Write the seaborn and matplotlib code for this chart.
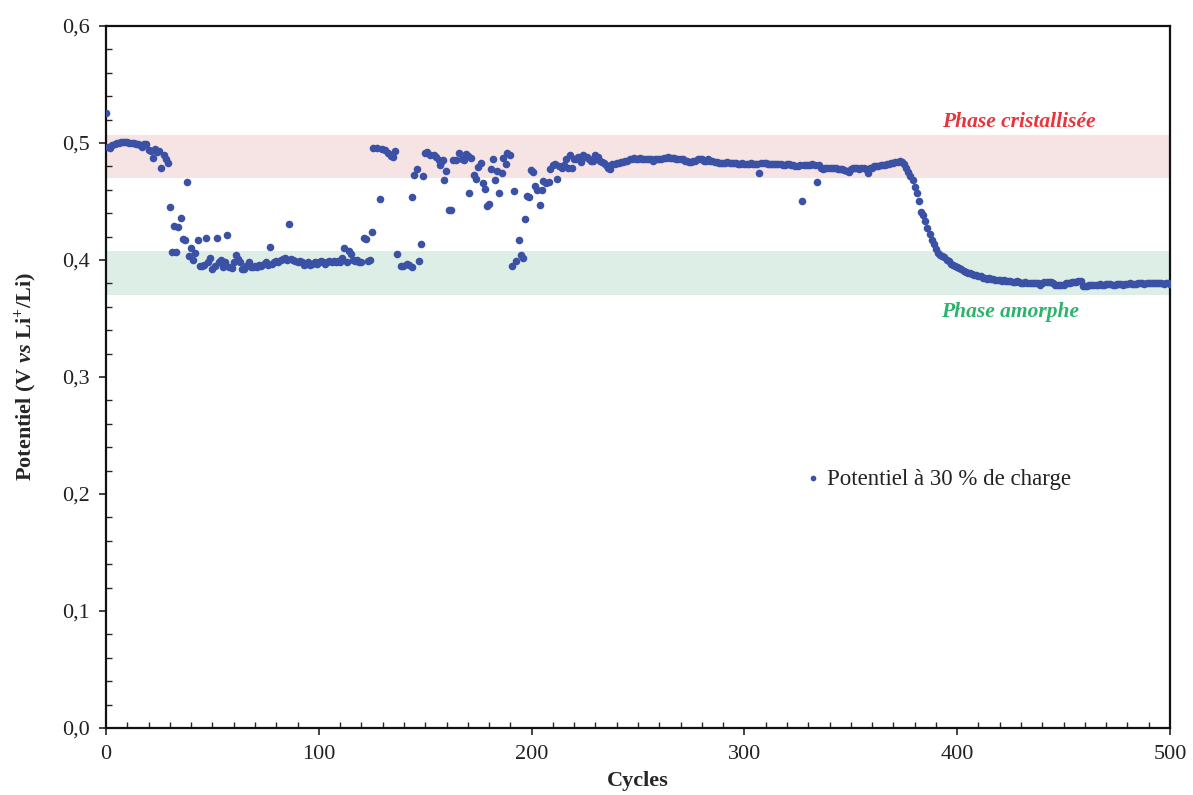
import numpy as np
import pandas as pd
import seaborn as sns
import matplotlib.pyplot as plt
from matplotlib.ticker import MultipleLocator

# Potentiel à 30 % de charge, cycles 0 à 125 (un point par cycle)
pot_debut = [
    0.526, 0.497, 0.496, 0.498, 0.499, 0.500, 0.500, 0.501, 0.501, 0.501,
    0.501, 0.500, 0.500, 0.500, 0.499, 0.499, 0.498, 0.497, 0.499, 0.499,
    0.494, 0.493, 0.487, 0.495, 0.492, 0.493, 0.479, 0.490, 0.486, 0.483,
    0.445, 0.407, 0.429, 0.407, 0.428, 0.436, 0.418, 0.417, 0.467, 0.403,
    0.410, 0.400, 0.406, 0.417, 0.395, 0.395, 0.396, 0.419, 0.398, 0.402,
    0.392, 0.395, 0.419, 0.398, 0.400, 0.394, 0.398, 0.421, 0.394, 0.393,
    0.398, 0.404, 0.401, 0.398, 0.392, 0.392, 0.395, 0.398, 0.394, 0.394,
    0.395, 0.394, 0.396, 0.395, 0.397, 0.398, 0.396, 0.411, 0.397, 0.398,
    0.399, 0.398, 0.400, 0.401, 0.402, 0.400, 0.431, 0.401, 0.400, 0.399,
    0.398, 0.399, 0.398, 0.396, 0.397, 0.398, 0.396, 0.397, 0.398, 0.397,
    0.398, 0.399, 0.398, 0.397, 0.398, 0.399, 0.398, 0.399, 0.398, 0.399,
    0.398, 0.402, 0.410, 0.398, 0.408, 0.405, 0.400, 0.399, 0.400, 0.398,
    0.398, 0.419, 0.418, 0.399, 0.400, 0.424,
]

# zone instable, cycles ~126 à 215 (points relevés un par un)
cycles_milieu = [
    125.6, 127.2, 128.8, 129.5, 131.0, 132.6, 133.7, 135.0, 135.8, 136.9,
    138.6, 139.7, 141.3, 142.4, 143.6, 143.8, 144.7, 146.0, 146.9, 147.9,
    148.8, 149.8, 150.9, 152.4, 153.9, 155.0, 156.4, 157.0, 157.4, 158.4,
    158.8, 159.8, 161.0, 161.9, 163.0, 164.5, 166.0, 167.4, 168.2, 169.0,
    170.0, 170.7, 171.4, 172.9, 173.9, 175.0, 176.0, 177.0, 178.1, 178.9,
    179.9, 180.9, 181.7, 182.8, 183.7, 184.8, 185.9, 186.7, 187.8, 188.5,
    189.7, 190.8, 191.7, 192.7, 193.9, 194.8, 195.8, 196.9, 197.7, 198.8,
    199.7, 200.8, 201.7, 202.6, 204.0, 204.8, 205.5, 206.8, 208.0, 208.6,
    209.9, 211.0, 211.8, 213.0, 214.2, 215.3,
]
pot_milieu = [
    0.4955, 0.4955, 0.452, 0.495, 0.494, 0.4917, 0.489, 0.488, 0.493, 0.405,
    0.395, 0.395, 0.397, 0.396, 0.394, 0.454, 0.473, 0.478, 0.399, 0.414,
    0.472, 0.4915, 0.4925, 0.490, 0.490, 0.488, 0.4855, 0.481, 0.484, 0.4855,
    0.468, 0.476, 0.4427, 0.443, 0.4855, 0.4855, 0.4917, 0.4865, 0.4855, 0.491,
    0.489, 0.457, 0.487, 0.4726, 0.469, 0.4797, 0.483, 0.466, 0.461, 0.446,
    0.448, 0.4775, 0.4865, 0.468, 0.476, 0.457, 0.4746, 0.487, 0.482, 0.4915,
    0.490, 0.395, 0.459, 0.399, 0.417, 0.4045, 0.402, 0.4348, 0.4547, 0.454,
    0.477, 0.4755, 0.463, 0.4595, 0.447, 0.460, 0.4675, 0.466, 0.4665, 0.478,
    0.481, 0.482, 0.469, 0.480, 0.4785, 0.4815,
]

# cycles 216 à 500 (un point par cycle)
pot_fin = [
    0.486, 0.479, 0.490, 0.479, 0.486, 0.486, 0.488, 0.484, 0.490, 0.488,
    0.488, 0.486, 0.485, 0.485, 0.490, 0.488, 0.485, 0.484, 0.483, 0.481,
    0.479, 0.478, 0.482, 0.482, 0.483, 0.483, 0.484, 0.484, 0.485, 0.485,
    0.486, 0.486, 0.487, 0.486, 0.486, 0.487, 0.486, 0.486, 0.486, 0.486,
    0.486, 0.485, 0.486, 0.486, 0.486, 0.486, 0.487, 0.487, 0.488, 0.487,
    0.487, 0.487, 0.486, 0.486, 0.486, 0.486, 0.485, 0.485, 0.484, 0.484,
    0.485, 0.485, 0.486, 0.486, 0.486, 0.485, 0.485, 0.486, 0.485, 0.485,
    0.484, 0.484, 0.483, 0.483, 0.483, 0.483, 0.484, 0.483, 0.483, 0.483,
    0.483, 0.482, 0.482, 0.483, 0.482, 0.482, 0.482, 0.483, 0.482, 0.482,
    0.482, 0.474, 0.483, 0.483, 0.483, 0.482, 0.482, 0.482, 0.482, 0.482,
    0.482, 0.482, 0.481, 0.481, 0.482, 0.482, 0.481, 0.481, 0.480, 0.480,
    0.481, 0.450, 0.481, 0.481, 0.481, 0.481, 0.482, 0.481, 0.467, 0.481,
    0.479, 0.478, 0.479, 0.479, 0.479, 0.479, 0.479, 0.479, 0.478, 0.478,
    0.478, 0.477, 0.476, 0.475, 0.478, 0.479, 0.479, 0.479, 0.478, 0.479,
    0.479, 0.478, 0.474, 0.479, 0.479, 0.480, 0.480, 0.480, 0.481, 0.481,
    0.481, 0.482, 0.482, 0.483, 0.483, 0.484, 0.484, 0.485, 0.484, 0.482,
    0.4785, 0.4755, 0.472, 0.468, 0.462, 0.4575, 0.450, 0.441, 0.4385, 0.4336,
    0.4276, 0.422, 0.417, 0.4137, 0.4094, 0.4063, 0.4043, 0.403, 0.4023, 0.400,
    0.399, 0.397, 0.396, 0.395, 0.394, 0.393, 0.392, 0.391, 0.390, 0.389,
    0.3886, 0.388, 0.387, 0.387, 0.386, 0.386, 0.385, 0.385, 0.384, 0.385,
    0.384, 0.384, 0.383, 0.383, 0.383, 0.382, 0.383, 0.382, 0.382, 0.382,
    0.381, 0.381, 0.382, 0.381, 0.380, 0.380, 0.381, 0.380, 0.380, 0.380,
    0.380, 0.380, 0.380, 0.379, 0.380, 0.381, 0.381, 0.381, 0.381, 0.380,
    0.379, 0.379, 0.379, 0.3786, 0.379, 0.380, 0.380, 0.3805, 0.381, 0.381,
    0.381, 0.382, 0.3823, 0.378, 0.378, 0.378, 0.3785, 0.379, 0.379, 0.379,
    0.379, 0.3795, 0.379, 0.379, 0.3795, 0.3795, 0.3795, 0.379, 0.379, 0.3795,
    0.3795, 0.3795, 0.379, 0.3795, 0.3795, 0.380, 0.3795, 0.3795, 0.3795, 0.380,
    0.380, 0.380, 0.3795, 0.380, 0.380, 0.380, 0.380, 0.380, 0.380, 0.380,
    0.380, 0.3795, 0.380, 0.380, 0.3795,
]

# zones de phase (bornes en V)
phase_cristal = (0.470, 0.507)
phase_amorphe = (0.370, 0.408)

x_ticks = [0, 100, 200, 300, 400, 500]
y_ticks = [0.0, 0.1, 0.2, 0.3, 0.4, 0.5, 0.6]
y_labels = ["0,0", "0,1", "0,2", "0,3", "0,4", "0,5", "0,6"]

cycles = np.concatenate([np.arange(0, len(pot_debut)),
                         cycles_milieu,
                         np.arange(216, 216 + len(pot_fin))])
potentiel = np.concatenate([pot_debut, pot_milieu, pot_fin])
df = pd.DataFrame({"Cycles": cycles, "Potentiel": potentiel})

sns.set_style("ticks")
plt.rcParams['font.family'] = ['Liberation Serif', 'DejaVu Serif']
plt.rcParams['mathtext.fontset'] = 'custom'
plt.rcParams['mathtext.rm'] = 'Liberation Serif:bold'
plt.rcParams['mathtext.it'] = 'Liberation Serif:italic:bold'
plt.rcParams['mathtext.bf'] = 'Liberation Serif:bold'

fig = plt.figure(figsize=(11.93, 7.95), dpi=100)
ax = fig.add_axes([0.0889, 0.0843, 0.8918, 0.883])

ax.axhspan(*phase_cristal, color='#f6e3e3', zorder=0, lw=0)
ax.axhspan(*phase_amorphe, color='#ddeee6', zorder=0, lw=0)

sns.scatterplot(data=df, x="Cycles", y="Potentiel", ax=ax, color='#3a51a6',
                s=30, linewidth=0, label="Potentiel à 30 % de charge", zorder=3)

ax.set_xlim(0, 500)
ax.set_ylim(0, 0.6)
ax.set_xticks(x_ticks)
ax.set_yticks(y_ticks)
ax.set_yticklabels(y_labels)
ax.xaxis.set_minor_locator(MultipleLocator(10))
ax.yaxis.set_minor_locator(MultipleLocator(0.02))
ax.tick_params(which='major', direction='out', length=5, width=1.2, labelsize=16,
               colors='#222222', pad=7)
ax.tick_params(which='minor', direction='in', length=4, width=1)

for sp in ax.spines.values():
    sp.set_linewidth(1.6)
    sp.set_color('#111111')

ax.set_xlabel("Cycles", fontsize=16, fontweight='bold', labelpad=5)
ax.set_ylabel(r"Potentiel (V $\mathit{vs}$ Li$^{+}$/Li)", fontsize=16,
              fontweight='bold', labelpad=16)

ax.text(429, 0.518, "Phase cristallisée", color='#e8343a', fontsize=15.5,
        fontweight='bold', fontstyle='italic', ha='center', va='center')
ax.text(425, 0.3556, "Phase amorphe", color='#2db36b', fontsize=15.5,
        fontweight='bold', fontstyle='italic', ha='center', va='center')

ax.legend(loc='center left', bbox_to_anchor=(0.632, 0.3547), frameon=False,
          fontsize=16.5, markerscale=0.75, handletextpad=0.0, handlelength=1.2,
          labelcolor='#222222')

plt.savefig("out.png", dpi=100)
